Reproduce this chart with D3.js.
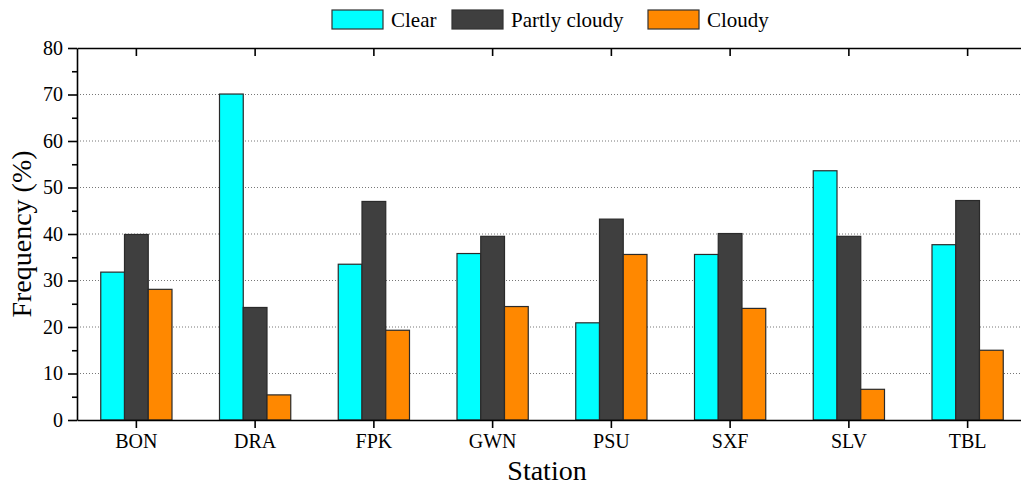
<!DOCTYPE html>
<html>
<head>
<meta charset="utf-8">
<script src="https://cdn.jsdelivr.net/npm/d3@7/dist/d3.min.js"></script>
<style>
  html, body { margin: 0; padding: 0; background: #fff; }
  svg { display: block; }
  svg text { font-family: "Liberation Serif", "DejaVu Serif", serif !important; }
</style>
</head>
<body>
<svg id="chart" width="1021" height="485"></svg>
<script>
// Sky-condition frequency per station
const stations = ["BON", "DRA", "FPK", "GWN", "PSU", "SXF", "SLV", "TBL"];
const seriesNames = ["Clear", "Partly cloudy", "Cloudy"];
const clear = [31.8, 70.1, 33.5, 35.8, 20.9, 35.6, 53.6, 37.7];
const partlyCloudy = [39.9, 24.2, 47.0, 39.5, 43.2, 40.1, 39.5, 47.2];
const cloudy = [28.1, 5.4, 19.3, 24.4, 35.6, 24.0, 6.6, 15.0];
const yTicks = [0, 10, 20, 30, 40, 50, 60, 70, 80];
const yMinorTicks = [5, 15, 25, 35, 45, 55, 65, 75];

const seriesValues = [clear, partlyCloudy, cloudy];
const colors = ["#00FFFF", "#3F3F3F", "#FF8800"];
const serif = "'Liberation Serif', 'DejaVu Serif', serif";

const svg = d3.select("#chart");
const plotLeft = 77, plotRight = 1027, plotTop = 48, plotBottom = 420;

const x = d3.scaleBand().domain(stations).range([plotLeft, plotRight])
  .paddingInner(0.4).paddingOuter(0.2);
const xs = d3.scaleBand().domain(seriesNames).range([0, x.bandwidth()]);
const y = d3.scaleLinear().domain([0, 80]).range([plotBottom, plotTop]);

// dotted grid lines
svg.append("g").selectAll("line")
  .data(yTicks.filter(d => d > 0 && d < 80))
  .join("line")
  .attr("x1", plotLeft).attr("x2", plotRight)
  .attr("y1", d => y(d)).attr("y2", d => y(d))
  .attr("stroke", "#777").attr("stroke-width", 1)
  .attr("stroke-dasharray", "1,2");

// bars
const groups = svg.append("g").selectAll("g")
  .data(stations)
  .join("g")
  .attr("transform", d => `translate(${x(d)},0)`);

groups.selectAll("rect")
  .data((d, i) => seriesNames.map((s, k) => ({ s, v: seriesValues[k][i], k })))
  .join("rect")
  .attr("x", d => xs(d.s))
  .attr("width", xs.bandwidth())
  .attr("y", d => y(d.v))
  .attr("height", d => y(0) - y(d.v))
  .attr("fill", d => colors[d.k])
  .attr("stroke", "#2a2a2a")
  .attr("stroke-width", 1.2);

// axes
const axisStyle = g => {
  g.attr("font-family", serif);
  g.select(".domain").attr("stroke", "#000").attr("stroke-width", 1.6);
  g.selectAll(".tick line").attr("stroke", "#000").attr("stroke-width", 1.6);
  g.selectAll("text").attr("fill", "#000").style("font-family", serif);
};

// left axis with labels
svg.append("g")
  .attr("transform", `translate(${plotLeft},0)`)
  .call(d3.axisLeft(y).tickValues(yTicks).tickSize(9).tickSizeOuter(0).tickPadding(5))
  .call(axisStyle)
  .call(g => g.selectAll("text").style("font-size", "20px"));

// left minor ticks
svg.append("g")
  .attr("transform", `translate(${plotLeft},0)`)
  .call(d3.axisLeft(y).tickValues(yMinorTicks).tickSize(5).tickFormat(""))
  .call(axisStyle)
  .call(g => g.select(".domain").remove());

// right axis (ticks inward)
svg.append("g")
  .attr("transform", `translate(${plotRight},0)`)
  .call(d3.axisLeft(y).tickValues(yTicks).tickSize(-8).tickSizeOuter(0).tickFormat(""))
  .call(axisStyle)
  .call(g => g.select(".domain").attr("d", `M0,${plotTop}V${plotBottom}`));

// bottom axis
svg.append("g")
  .attr("transform", `translate(0,${plotBottom})`)
  .call(d3.axisBottom(x).tickSize(8).tickSizeOuter(0).tickPadding(6))
  .call(axisStyle)
  .call(g => g.selectAll("text").style("font-size", "20px"));

// top axis (ticks inward)
svg.append("g")
  .attr("transform", `translate(0,${plotTop})`)
  .call(d3.axisTop(x).tickSize(-8).tickSizeOuter(0).tickFormat(""))
  .call(axisStyle);

// axis titles
svg.append("text")
  .attr("x", (plotLeft + plotRight) / 2 - 5).attr("y", 480)
  .attr("text-anchor", "middle")
  .style("font-family", serif)
  .style("font-size", "28px")
  .text("Station");

svg.append("text")
  .attr("transform", `translate(31,${(plotTop + plotBottom) / 2}) rotate(-90)`)
  .attr("text-anchor", "middle")
  .style("font-family", serif)
  .style("font-size", "28px")
  .text("Frequency (%)");

// legend
const legendItems = [
  { name: seriesNames[0], x: 332 },
  { name: seriesNames[1], x: 452 },
  { name: seriesNames[2], x: 648 }
];
const legend = svg.append("g");
legendItems.forEach((it, k) => {
  legend.append("rect")
    .attr("x", it.x).attr("y", 10)
    .attr("width", 51).attr("height", 19)
    .attr("fill", colors[k])
    .attr("stroke", "#333").attr("stroke-width", 1.2);
  legend.append("text")
    .attr("x", it.x + 59).attr("y", 27)
    .style("font-family", serif)
    .style("font-size", "21px")
    .text(it.name);
});
</script>
</body>
</html>
